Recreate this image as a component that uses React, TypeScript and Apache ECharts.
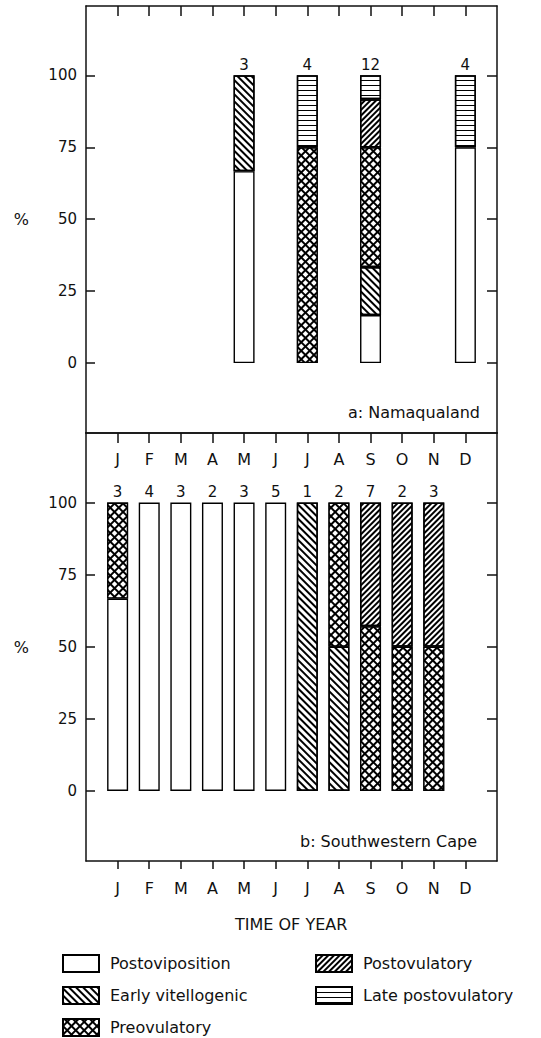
import React, { useEffect, useRef } from 'react';
import * as echarts from 'echarts';

const months = ['J', 'F', 'M', 'A', 'M', 'J', 'J', 'A', 'S', 'O', 'N', 'D'];
const stages = ['Postoviposition', 'Early vitellogenic', 'Preovulatory', 'Postovulatory', 'Late postovulatory'];
const yTicks = [0, 25, 50, 75, 100];
const panelLabels = ['a: Namaqualand', 'b: Southwestern Cape'];
const xTitle = 'TIME OF YEAR';

// a: Namaqualand (% of females per month)
const namaPostoviposition = [null, null, null, null, 66.7, null, null, null, 16.7, null, null, 75];
const namaEarlyVitellogenic = [null, null, null, null, 33.3, null, null, null, 16.7, null, null, null];
const namaPreovulatory = [null, null, null, null, null, null, 75, null, 41.6, null, null, null];
const namaPostovulatory = [null, null, null, null, null, null, null, null, 16.7, null, null, null];
const namaLatePostovulatory = [null, null, null, null, null, null, 25, null, 8.3, null, null, 25];
const namaCounts = [null, null, null, null, 3, null, 4, null, 12, null, null, 4];

// b: Southwestern Cape (% of females per month)
const capePostoviposition = [66.7, 100, 100, 100, 100, 100, null, null, null, null, null, null];
const capeEarlyVitellogenic = [null, null, null, null, null, null, 100, 50, null, null, null, null];
const capePreovulatory = [33.3, null, null, null, null, null, null, 50, 57.1, 50, 50, null];
const capePostovulatory = [null, null, null, null, null, null, null, null, 42.9, 50, 50, null];
const capeLatePostovulatory = [null, null, null, null, null, null, null, null, null, null, null, null];
const capeCounts = [3, 4, 3, 2, 3, 5, 1, 2, 7, 2, 3, null];

const FONT = 'DejaVu Sans';
const INK = '#111';

// fill colour + decal per stage
const fills = ['#fff', '#fff', '#000', '#fff', '#fff'];
const decals: any[] = [
  null,
  { symbol: 'rect', symbolSize: 1, color: '#000', dashArrayX: [1, 0], dashArrayY: [1.4, 2.1], rotation: Math.PI / 4 },
  { symbol: 'rect', symbolSize: 1, color: '#fff', dashArrayX: [3.2, 1.8], dashArrayY: [3.2, 1.8], rotation: Math.PI / 4 },
  { symbol: 'rect', symbolSize: 1, color: '#000', dashArrayX: [1, 0], dashArrayY: [1.2, 1.8], rotation: -Math.PI / 4 },
  { symbol: 'rect', symbolSize: 1, color: '#000', dashArrayX: [1, 0], dashArrayY: [1, 4], rotation: 0 },
];

const panels = [
  { values: [namaPostoviposition, namaEarlyVitellogenic, namaPreovulatory, namaPostovulatory, namaLatePostovulatory], counts: namaCounts },
  { values: [capePostoviposition, capeEarlyVitellogenic, capePreovulatory, capePostovulatory, capeLatePostovulatory], counts: capeCounts },
];

const Y_MIN = -24.3;
const Y_MAX = 124.1;
// one empty slot either side of the twelve months
const cats = ['', ...months, ''];
const pad = (arr: any[]) => ['-', ...arr.map((v) => (v == null ? '-' : v)), '-'];
const line = { color: INK, width: 1.5 };
const tickInterval = (i: number) => i > 0 && i < 13;

export default function App() {
  const ref = useRef<HTMLDivElement>(null);
  useEffect(() => {
    const chart = echarts.init(ref.current!, null, { renderer: 'svg' });

    const grids = [
      { left: 86, top: 6, width: 411, height: 427 },
      { left: 86, top: 433, width: 411, height: 428 },
    ];

    const baseX = { type: 'category', data: cats, boundaryGap: false, splitLine: { show: false }, axisLine: { show: true, onZero: false, lineStyle: line } };
    const monthLabel = { show: true, interval: 0, fontFamily: FONT, fontSize: 16, color: INK };
    const xAxis: any[] = [
      { ...baseX, gridIndex: 0, position: 'top', axisTick: { show: true, inside: true, length: 10, interval: tickInterval, lineStyle: line }, axisLabel: { show: false } },
      { ...baseX, gridIndex: 0, position: 'bottom', axisTick: { show: false }, axisLabel: { show: false } },
      { ...baseX, gridIndex: 1, position: 'top', axisTick: { show: true, inside: true, length: 10, interval: tickInterval, lineStyle: line },
        axisLabel: { ...monthLabel, inside: true, margin: 18 } },
      { ...baseX, gridIndex: 1, position: 'bottom', axisTick: { show: true, inside: false, length: 8, interval: tickInterval, lineStyle: line },
        axisLabel: { ...monthLabel, margin: 19 } },
    ];

    const baseY = { type: 'value', min: Y_MIN, max: Y_MAX, splitLine: { show: false }, axisLine: { show: true, onZero: false, lineStyle: line } };
    const yAxis: any[] = [];
    [0, 1].forEach((g) => {
      yAxis.push({ ...baseY, gridIndex: g, position: 'left',
        name: '%', nameLocation: 'middle', nameGap: 57, nameRotate: 0,
        nameTextStyle: { fontFamily: FONT, fontSize: 16, color: INK },
        axisTick: { show: true, inside: true, length: 9, customValues: yTicks, lineStyle: line },
        axisLabel: { show: true, margin: 9, customValues: yTicks, fontFamily: FONT, fontSize: 15, color: INK } });
      yAxis.push({ ...baseY, gridIndex: g, position: 'right',
        axisTick: { show: true, inside: true, length: 10, customValues: yTicks, lineStyle: line },
        axisLabel: { show: false } });
    });

    const series: any[] = [];
    panels.forEach((p, g) => {
      p.values.forEach((vals, s) => {
        series.push({
          type: 'bar', name: stages[s], xAxisIndex: g * 2, yAxisIndex: g * 2, stack: 'panel' + g,
          barWidth: 21, silent: true,
          itemStyle: { color: fills[s], borderColor: '#000', borderWidth: 1.4, decal: decals[s] || undefined },
          data: pad(vals),
        });
      });
      series.push({
        type: 'scatter', xAxisIndex: g * 2, yAxisIndex: g * 2, symbolSize: 0, silent: true,
        itemStyle: { color: INK, opacity: 1 },
        data: p.counts.map((c, i) => [i + 1, c == null ? '-' : 100, c]),
        label: { show: true, position: 'top', distance: 3, formatter: (q: any) => String(q.value[2]), fontFamily: FONT, fontSize: 15, color: INK, opacity: 1 },
      });
    });

    const legendBase = {
      orient: 'vertical', itemWidth: 36, itemHeight: 17, itemGap: 13, icon: 'rect', selectedMode: false, padding: 0,
      textStyle: { fontFamily: FONT, fontSize: 16, color: INK, padding: [0, 0, 0, 6] },
    };

    chart.setOption({
      animation: false,
      backgroundColor: '#fff',
      grid: grids,
      xAxis, yAxis, series,
      legend: [
        { ...legendBase, left: 62, top: 954, data: stages.slice(0, 3) },
        { ...legendBase, left: 315, top: 954, data: stages.slice(3) },
      ],
      graphic: [
        { type: 'text', right: 61, top: 404, style: { text: panelLabels[0], font: `16px "${FONT}"`, fill: INK } },
        { type: 'text', right: 64, top: 833, style: { text: panelLabels[1], font: `16px "${FONT}"`, fill: INK } },
        { type: 'text', left: 235, top: 916, style: { text: xTitle, font: `16px "${FONT}"`, fill: INK } },
      ],
    });
    return () => chart.dispose();
  }, []);
  return <div ref={ref} style={{ position: 'absolute', left: 0, top: 0, width: 541, height: 1038 }} />;
}
